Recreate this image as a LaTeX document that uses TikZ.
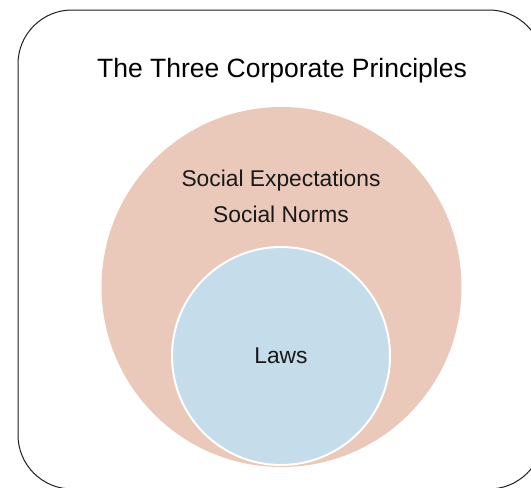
\documentclass[tikz,border=0pt]{standalone}
\usepackage{fontspec}
\setmainfont{Liberation Sans}
\definecolor{outerfill}{RGB}{234,201,186}
\definecolor{innerfill}{RGB}{197,220,234}
\definecolor{framecol}{RGB}{30,30,30}
\tikzset{
  frame/.style={draw=framecol, line width=1pt, rounded corners=54pt},
  bigcircle/.style={circle, fill=outerfill, minimum size=360pt, inner sep=0pt},
  smallcircle/.style={circle, fill=innerfill, draw=white, line width=2pt, minimum size=218pt, inner sep=0pt},
  titletext/.style={anchor=base, inner sep=0pt, font=\fontsize{26.5}{30}\selectfont, text=black},
  labeltext/.style={anchor=base, inner sep=0pt, font=\fontsize{22.8}{26}\selectfont, text=black!90}
}
\begin{document}
\begin{tikzpicture}[x=1pt,y=-1pt]
  \useasboundingbox (0,0) rectangle (531,488);
  \clip (0,0) rectangle (531,488);
  \fill[white] (0,0) rectangle (531,488);
  \draw[frame] (18,10) rectangle (543,489);
  \node[titletext] (title) at (282,77) {The Three Corporate Principles};
  \node[bigcircle] (outer) at (281.5,287) {};
  \node[smallcircle] (inner) at (281,356) {};
  \node[labeltext] (expect) at (281,186) {Social Expectations};
  \node[labeltext] (norms) at (281,222) {Social Norms};
  \node[labeltext] (laws) at (281,363) {Laws};
\end{tikzpicture}
\end{document}
